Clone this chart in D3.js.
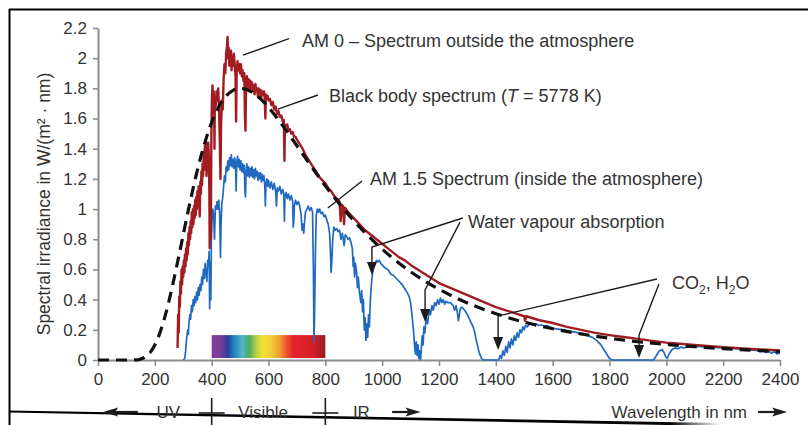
<!DOCTYPE html>
<html>
<head>
<meta charset="utf-8">
<script src="https://cdn.jsdelivr.net/npm/d3@7"></script>
<style>
  html, body { margin: 0; padding: 0; background: #fff; }
  svg { display: block; font-family: "Liberation Sans", Arial, Helvetica, sans-serif; }
</style>
</head>
<body>
<svg id="chart" width="808" height="425"></svg>
<script>
// Solar spectral irradiance, W/(m²·nm), against wavelength in nm.

const xTicks = [0, 200, 400, 600, 800, 1000, 1200, 1400, 1600, 1800, 2000, 2200, 2400];
const xTickLabels = ["0", "200", "400", "600", "800", "1000", "1200", "1400", "1600", "1800", "2000", "2200", "2400"];
const yTicks = [0, 0.2, 0.4, 0.6, 0.8, 1, 1.2, 1.4, 1.6, 1.8, 2, 2.2];
const yTickLabels = ["0", "0.2", "0.4", "0.6", "0.8", "1", "1.2", "1.4", "1.6", "1.8", "2", "2.2"];

// Black body (T = 5778 K), [nm, irradiance]
const blackBody = [
  [0, 0], [100, 0], [140, 0.001], [150, 0.007], [162, 0.015], [175, 0.033], [187, 0.059],
  [200, 0.10], [212, 0.15], [225, 0.22], [237, 0.297], [250, 0.393], [262, 0.491], [275, 0.604],
  [287, 0.712], [300, 0.831], [325, 1.055], [350, 1.26], [375, 1.434], [400, 1.574], [425, 1.678],
  [450, 1.748], [475, 1.787], [500, 1.80], [525, 1.791], [550, 1.765], [575, 1.725], [600, 1.674],
  [650, 1.553], [700, 1.42], [750, 1.285], [800, 1.154], [850, 1.034], [900, 0.923], [950, 0.824],
  [1000, 0.735], [1100, 0.585], [1200, 0.469], [1300, 0.378], [1400, 0.307], [1500, 0.251],
  [1600, 0.207], [1700, 0.173], [1800, 0.144], [1900, 0.121], [2000, 0.103], [2100, 0.088],
  [2200, 0.0755], [2300, 0.065], [2400, 0.0558]
];

// AM 0 – outside the atmosphere, [nm, irradiance]
const am0 = [
  [280,0.08],[282,0.30],[284,0.18],[286,0.42],[288,0.35],[290,0.52],[292,0.44],[294,0.60],[296,0.50],[298,0.62],
  [300,0.55],[302,0.66],[304,0.58],[306,0.70],[308,0.62],[310,0.74],[312,0.66],[314,0.78],[316,0.70],[318,0.84],
  [320,0.76],[322,0.88],[324,0.80],[326,0.92],[328,0.84],[330,0.98],[332,0.88],[334,1.00],[336,0.90],[338,1.02],
  [340,0.94],[342,1.06],[344,0.96],[346,1.08],[348,1.00],[350,1.12],[352,1.04],[354,1.15],[356,1.06],[358,0.95],
  [360,1.18],[362,1.10],[364,1.25],[366,1.16],[368,1.30],[370,1.22],[372,1.38],[374,1.26],[376,1.42],[378,1.30],
  [380,1.45],[382,1.22],[384,1.38],[386,1.28],[388,1.44],[390,1.36],[392,1.10],[393,0.74],[395,1.30],[397,0.80],
  [399,1.50],[401,1.74],[403,1.82],[405,1.70],[407,1.78],[409,1.60],[410,1.40],[411,1.72],[414,1.68],[417,1.78],
  [420,1.72],[423,1.80],[426,1.66],[429,1.42],[431,1.20],[433,1.55],[436,1.72],[439,1.66],[442,1.86],[445,1.96],
  [448,1.90],[451,2.03],[454,2.08],[456,2.14],[458,2.00],[460,2.07],[462,1.95],[464,2.05],[466,1.98],[468,2.05],
  [470,1.92],[472,2.01],[475,1.95],[478,2.03],[481,1.96],[484,1.88],[486,1.58],[488,1.90],[491,1.98],[494,1.92],
  [497,1.96],[500,1.90],[503,1.96],[506,1.88],[509,1.92],[512,1.85],[515,1.90],[517,1.62],[519,1.52],[521,1.80],
  [524,1.88],[527,1.80],[530,1.86],[533,1.78],[536,1.85],[539,1.80],[542,1.84],[545,1.78],[548,1.82],[551,1.76],
  [554,1.83],[557,1.78],[560,1.80],[563,1.74],[566,1.80],[569,1.76],[572,1.79],[575,1.74],[578,1.78],[581,1.76],
  [584,1.78],[587,1.73],[589,1.60],[591,1.76],[594,1.73],[597,1.75],[600,1.72],[605,1.73],[610,1.69],[615,1.71],
  [620,1.66],[625,1.68],[630,1.63],[635,1.65],[640,1.61],[645,1.62],[650,1.58],[654,1.59],[656,1.32],[658,1.56],
  [662,1.55],[666,1.56],[670,1.52],[675,1.53],[680,1.50],[685,1.51],[690,1.48],[695,1.48],[700,1.46],[710,1.43],
  [720,1.40],[730,1.36],[740,1.33],[750,1.30],[760,1.27],[770,1.24],[780,1.21],[790,1.19],[800,1.17],[810,1.14],
  [820,1.12],[830,1.09],[840,1.07],[850,1.05],[854,0.92],[857,1.03],[862,1.02],[866,0.90],[869,1.01],[880,0.98],
  [890,0.96],[900,0.94],[920,0.90],[940,0.86],[960,0.83],[980,0.80],[1000,0.77],[1020,0.74],[1040,0.71],[1060,0.68],
  [1080,0.66],[1100,0.63],[1150,0.57],[1200,0.51],[1250,0.47],[1300,0.43],[1350,0.39],[1400,0.35],[1450,0.32],
  [1500,0.29],[1503,0.26],[1507,0.29],[1550,0.265],[1600,0.245],[1650,0.22],[1700,0.20],[1750,0.18],[1800,0.165],
  [1850,0.152],[1900,0.14],[1950,0.127],[2000,0.115],[2100,0.099],[2200,0.085],[2300,0.073],[2400,0.063]
];

// AM 1.5 – inside the atmosphere, [nm, irradiance]
const am15 = [
  [300,0],[305,0.01],[308,0.05],[310,0.10],[313,0.16],[316,0.20],[318,0.17],[320,0.24],[323,0.30],[326,0.27],
  [329,0.36],[332,0.32],[335,0.40],[338,0.36],[341,0.42],[344,0.38],[347,0.45],[350,0.40],[353,0.48],[356,0.43],
  [359,0.50],[362,0.46],[365,0.55],[368,0.50],[371,0.60],[374,0.54],[377,0.64],[380,0.58],[383,0.52],[386,0.66],
  [389,0.62],[391,0.72],[393,0.34],[395,0.65],[397,0.40],[399,0.78],[401,0.92],[404,1.00],[407,0.96],[410,0.80],
  [413,1.02],[416,1.00],[419,1.05],[422,1.00],[425,1.06],[428,0.98],[431,0.68],[433,0.90],[436,1.04],[439,1.08],
  [442,1.15],[445,1.22],[448,1.18],[451,1.28],[454,1.25],[457,1.32],[460,1.26],[463,1.34],[466,1.29],[469,1.36],
  [472,1.28],[475,1.33],[478,1.27],[481,1.34],[484,1.30],[486,1.12],[488,1.30],[491,1.35],[494,1.28],[497,1.33],
  [500,1.26],[503,1.32],[506,1.25],[509,1.30],[512,1.24],[515,1.29],[517,1.12],[519,1.08],[521,1.24],[524,1.30],
  [527,1.22],[530,1.28],[533,1.21],[536,1.27],[539,1.22],[542,1.28],[545,1.21],[548,1.26],[551,1.20],[554,1.27],
  [557,1.22],[560,1.25],[563,1.19],[566,1.24],[569,1.20],[572,1.24],[575,1.18],[578,1.23],[581,1.19],[584,1.22],
  [587,1.15],[589,1.02],[591,1.16],[594,1.20],[597,1.15],[600,1.19],[605,1.14],[610,1.18],[615,1.13],[620,1.17],
  [625,1.12],[628,1.02],[631,1.14],[635,1.12],[640,1.15],[645,1.10],[650,1.13],[654,1.10],[656,0.92],[658,1.09],
  [662,1.11],[666,1.07],[670,1.10],[675,1.06],[680,1.09],[685,1.05],[687,0.88],[689,0.92],[691,1.02],[695,1.06],
  [700,1.03],[705,1.05],[710,1.02],[715,0.96],[718,0.86],[721,0.90],[724,0.84],[727,0.92],[730,0.98],[735,1.00],
  [740,1.02],[745,0.99],[750,1.01],[755,0.98],[758,0.60],[760,0.12],[762,0.30],[765,0.70],[768,0.96],[772,1.00],
  [776,0.98],[780,1.00],[785,0.97],[790,0.98],[795,0.95],[800,0.96],[805,0.93],[810,0.90],[815,0.84],[818,0.72],
  [820,0.58],[823,0.66],[826,0.80],[830,0.88],[835,0.86],[840,0.87],[845,0.85],[850,0.86],[855,0.80],[860,0.84],
  [866,0.76],[870,0.83],[875,0.82],[880,0.80],[885,0.81],[890,0.78],[895,0.74],[898,0.62],[900,0.68],[903,0.55],
  [906,0.64],[910,0.58],[913,0.48],[916,0.55],[920,0.45],[925,0.38],[928,0.46],[931,0.32],[934,0.40],[937,0.20],
  [940,0.28],[943,0.13],[946,0.24],[949,0.15],[952,0.30],[955,0.22],[958,0.38],[962,0.50],[966,0.58],[970,0.62],
  [975,0.64],[980,0.66],[985,0.65],[990,0.66],[995,0.64],[1000,0.63],[1010,0.61],[1020,0.60],[1030,0.57],[1040,0.56],
  [1050,0.54],[1060,0.52],[1070,0.50],[1080,0.47],[1090,0.44],[1095,0.42],[1100,0.38],[1105,0.30],[1110,0.20],
  [1114,0.10],[1117,0.04],[1120,0.12],[1123,0.03],[1126,0.10],[1129,0.01],[1132,0.06],[1135,0.00],[1138,0.08],
  [1141,0.16],[1144,0.10],[1147,0.22],[1150,0.18],[1155,0.28],[1160,0.24],[1165,0.33],[1170,0.30],[1175,0.36],
  [1180,0.33],[1185,0.38],[1190,0.36],[1195,0.40],[1200,0.37],[1205,0.41],[1210,0.38],[1215,0.40],[1220,0.37],
  [1225,0.39],[1230,0.38],[1240,0.38],[1250,0.36],[1255,0.33],[1260,0.36],[1265,0.31],[1268,0.26],[1271,0.29],
  [1275,0.34],[1280,0.35],[1285,0.34],[1290,0.33],[1300,0.30],[1310,0.26],[1320,0.22],[1325,0.19],[1330,0.14],
  [1335,0.10],[1340,0.06],[1345,0.03],[1350,0.01],[1355,0],[1410,0],[1415,0.03],[1420,0.01],[1425,0.06],[1430,0.03],
  [1435,0.09],[1440,0.05],[1445,0.12],[1450,0.08],[1455,0.14],[1460,0.10],[1465,0.16],[1470,0.13],[1475,0.18],
  [1480,0.15],[1485,0.20],[1490,0.18],[1495,0.22],[1500,0.20],[1505,0.23],[1510,0.22],[1520,0.24],[1530,0.235],
  [1540,0.24],[1550,0.23],[1560,0.232],[1570,0.225],[1580,0.228],[1590,0.218],[1600,0.21],[1620,0.205],[1640,0.20],
  [1660,0.19],[1680,0.185],[1700,0.175],[1720,0.165],[1740,0.15],[1755,0.13],[1770,0.10],[1780,0.07],[1790,0.04],
  [1800,0.01],[1810,0],[1955,0],[1965,0.03],[1975,0.06],[1985,0.07],[1992,0.05],[1998,0.02],[2003,0.01],[2010,0.04],
  [2020,0.07],[2030,0.08],[2040,0.075],[2050,0.085],[2060,0.08],[2080,0.09],[2100,0.09],[2120,0.088],[2140,0.087],
  [2160,0.085],[2180,0.082],[2200,0.08],[2220,0.078],[2240,0.075],[2260,0.072],[2280,0.07],[2300,0.066],[2320,0.063],
  [2330,0.055],[2340,0.062],[2350,0.05],[2360,0.058],[2370,0.045],[2380,0.055],[2390,0.04],[2400,0.05]
];

// Visible band (nm) and its rainbow colour stops
const visibleBand = [400, 800];
const visibleBandHeight = 0.165;
const rainbowStops = [
  [0.00, "#8a3c98"], [0.08, "#7a3c9c"], [0.14, "#2c3f9a"], [0.20, "#1f86c8"], [0.27, "#58b4c2"],
  [0.33, "#4caa62"], [0.39, "#b6d043"], [0.45, "#f1e132"], [0.52, "#f3cf35"], [0.60, "#f19a31"],
  [0.66, "#ec532b"], [0.72, "#e2232a"], [0.88, "#d81f26"], [1.00, "#9b1a1f"]
];

const svg = d3.select("#chart");
const W = 808, H = 425;
const x = d3.scaleLinear().domain([0, 2400]).range([98, 780]);
const y = d3.scaleLinear().domain([0, 2.2]).range([360, 28]);

const axisGrey = "#8d8d8d";
const textCol = "#333";

// page frame
const defs = svg.append("defs");
const fade = defs.append("linearGradient").attr("id", "frameFade")
  .attr("gradientUnits", "userSpaceOnUse").attr("x1", 9).attr("x2", 720).attr("y1", 0).attr("y2", 0);
fade.append("stop").attr("offset", 0).attr("stop-color", "#000");
fade.append("stop").attr("offset", 0.93).attr("stop-color", "#000");
fade.append("stop").attr("offset", 1).attr("stop-color", "#000").attr("stop-opacity", 0);
svg.append("line").attr("x1", 9).attr("y1", 9.5).attr("x2", W).attr("y2", 9.5)
  .attr("stroke", "#000").attr("stroke-width", 2);
svg.append("line").attr("x1", 9.5).attr("y1", 9).attr("x2", 9.5).attr("y2", H)
  .attr("stroke", "#000").attr("stroke-width", 2);
svg.append("path").attr("d", "M9,410.5 L720,423 L720,426 L9,412.6 Z").attr("fill", "url(#frameFade)");

// visible band
const grad = defs.append("linearGradient").attr("id", "rainbow").attr("x1", 0).attr("x2", 1).attr("y1", 0).attr("y2", 0);
rainbowStops.forEach(([o, c]) => grad.append("stop").attr("offset", o).attr("stop-color", c));
svg.append("rect")
  .attr("x", x(visibleBand[0])).attr("width", x(visibleBand[1]) - x(visibleBand[0]))
  .attr("y", y(visibleBandHeight)).attr("height", y(0) - y(visibleBandHeight) - 2)
  .attr("fill", "url(#rainbow)");

// axes
const gx = svg.append("g").attr("transform", `translate(0,${y(0)})`)
  .call(d3.axisBottom(x).tickValues(xTicks).tickFormat((d, i) => xTickLabels[i])
    .tickSize(6).tickSizeOuter(0).tickPadding(7));
const gy = svg.append("g").attr("transform", `translate(${x(0)},0)`)
  .call(d3.axisLeft(y).tickValues(yTicks).tickFormat((d, i) => yTickLabels[i])
    .tickSize(5).tickSizeOuter(0).tickPadding(6));
[gx, gy].forEach(g => {
  g.select(".domain").attr("stroke", axisGrey).attr("stroke-width", 2);
  g.selectAll(".tick line").attr("stroke", axisGrey).attr("stroke-width", 1.6);
  g.selectAll(".tick text").attr("fill", textCol).attr("font-size", 17)
    .attr("font-family", "Liberation Sans, Arial, sans-serif");
});

// y-axis title
svg.append("text")
  .attr("transform", `translate(50,${(y(0) + y(2.2)) / 2 + 10}) rotate(-90)`)
  .attr("text-anchor", "middle").attr("font-size", 17.5).attr("fill", textCol)
  .text("Spectral irradiance in W/(m² · nm)");

// spectra
const line = d3.line().x(d => x(d[0])).y(d => y(d[1]));
svg.append("path").datum(am15).attr("d", line)
  .attr("fill", "none").attr("stroke", "#2069c0").attr("stroke-width", 1.7).attr("stroke-linejoin", "round");
svg.append("path").datum(am0).attr("d", line)
  .attr("fill", "none").attr("stroke", "#a11d22").attr("stroke-width", 2.4).attr("stroke-linejoin", "round");
svg.append("path").datum(blackBody).attr("d", line.curve(d3.curveMonotoneX))
  .attr("fill", "none").attr("stroke", "#111").attr("stroke-width", 3.2)
  .attr("stroke-dasharray", "11 7");

// call-outs: leader points in [nm, irradiance]
const leaders = [
  { pts: [[510, 2.02], [672, 2.13]] },
  { pts: [[633, 1.663], [774, 1.756]] },
  { pts: [[809, 1.007], [929, 1.186]] },
  { pts: [[1284, 0.941], [964, 0.749], [964, 0.563]], arrow: true },
  { pts: [[1274, 0.914], [1151, 0.464], [1151, 0.252]], arrow: true },
  { pts: [[1967, 0.537], [1408, 0.292], [1408, 0.066]], arrow: true },
  { pts: [[1974, 0.504], [1904, 0.166], [1904, 0.013]], arrow: true }
];
const lead = d3.line().x(d => x(d[0])).y(d => y(d[1]));
leaders.forEach(l => {
  const pts = l.arrow ? l.pts.map((p, i) => i === l.pts.length - 1 ? [p[0], y.invert(y(p[1]) - 10)] : p) : l.pts;
  svg.append("path").attr("d", lead(pts)).attr("fill", "none")
    .attr("stroke", "#1c1c1c").attr("stroke-width", 1.4);
  if (l.arrow) {
    const tip = l.pts[l.pts.length - 1];
    const tx = x(tip[0]), ty = y(tip[1]);
    svg.append("path").attr("d", `M${tx - 5},${ty - 13} L${tx + 5},${ty - 13} L${tx},${ty} Z`).attr("fill", "#1c1c1c");
  }
});

function label(nm, v, parts) {
  const t = svg.append("text").attr("x", x(nm)).attr("y", y(v))
    .attr("font-size", 18).attr("fill", textCol);
  parts.forEach(p => {
    const s = t.append("tspan").text(p.t);
    if (p.i) s.attr("font-style", "italic");
    if (p.sub) s.attr("font-size", 12).attr("dy", 5);
    if (p.up) s.attr("dy", -5);
  });
}
label(718, 2.074, [{ t: "AM 0 – Spectrum outside the atmosphere" }]);
label(813, 1.71, [{ t: "Black body spectrum (" }, { t: "T", i: true }, { t: " = 5778 K)" }]);
label(957, 1.16, [{ t: "AM 1.5 Spectrum (inside the atmosphere)" }]);
label(1302, 0.875, [{ t: "Water vapour absorption" }]);
label(2020, 0.47, [{ t: "CO" }, { t: "2", sub: true }, { t: ", H", up: true }, { t: "2", sub: true }, { t: "O", up: true }]);

// spectral regions under the axis
const rowY = 412, rowBase = 418;
function hArrow(x1, x2) {
  const dir = Math.sign(x2 - x1);
  svg.append("line").attr("x1", x1).attr("y1", rowY).attr("x2", x2 - dir * 10).attr("y2", rowY)
    .attr("stroke", "#1c1c1c").attr("stroke-width", 2.2);
  svg.append("path").attr("d", `M${x2},${rowY} L${x2 - dir * 15},${rowY - 4.5} L${x2 - dir * 12},${rowY} L${x2 - dir * 15},${rowY + 4.5} Z`)
    .attr("fill", "#1c1c1c");
}
hArrow(x(140), x(18));
hArrow(x(1035), x(1135));
hArrow(x(2323), x(2425));
visibleBand.forEach(nm => {
  const cx = x(nm);
  svg.append("line").attr("x1", cx).attr("x2", cx).attr("y1", 398).attr("y2", H)
    .attr("stroke", "#1c1c1c").attr("stroke-width", 1.6);
  svg.append("line").attr("x1", cx - 13).attr("x2", cx + 13).attr("y1", 413).attr("y2", 413)
    .attr("stroke", "#1c1c1c").attr("stroke-width", 1.6);
});
const rowText = (nm, txt, anchor) => svg.append("text").attr("x", x(nm)).attr("y", rowBase)
  .attr("text-anchor", anchor).attr("font-size", 17).attr("fill", textCol).text(txt);
rowText(247, "UV", "middle");
rowText(581, "Visible", "middle");
rowText(897, "IR", "start");
rowText(2284, "Wavelength in nm", "end");
</script>
</body>
</html>
